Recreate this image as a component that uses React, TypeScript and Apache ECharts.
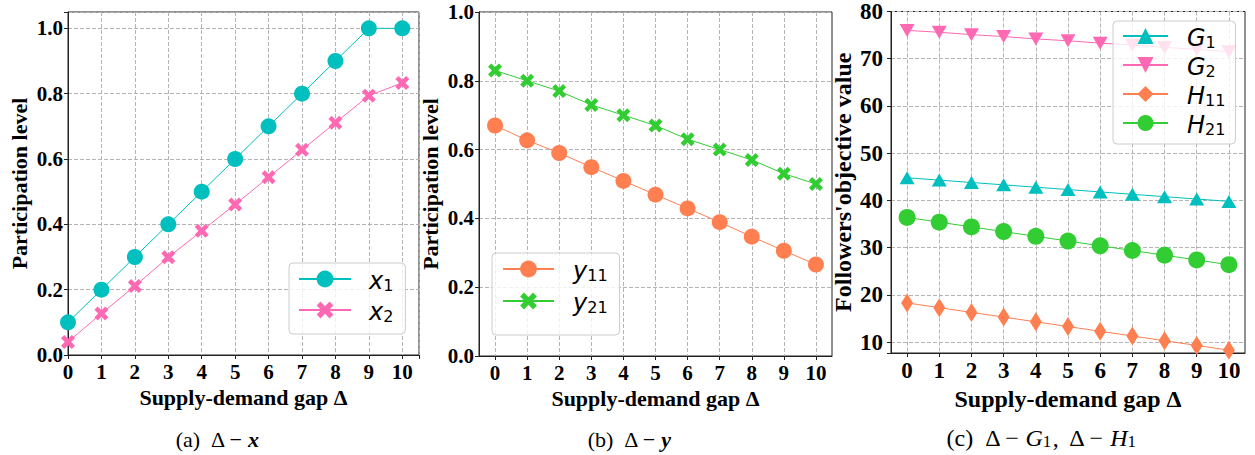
import React, { useEffect, useRef } from "react";
import * as echarts from "echarts";

// ---- data ----
const deltas = [0, 1, 2, 3, 4, 5, 6, 7, 8, 9, 10];
const deltaLabels = deltas.map(String);
const x1 = [0.1, 0.2, 0.3, 0.4, 0.5, 0.6, 0.7, 0.8, 0.9, 1.0, 1.0];
const x2 = [0.04, 0.127, 0.211, 0.299, 0.38, 0.461, 0.544, 0.628, 0.711, 0.794, 0.833];
const y11 = [0.67, 0.627, 0.59, 0.549, 0.509, 0.469, 0.429, 0.389, 0.347, 0.306, 0.266];
const y21 = [0.83, 0.8, 0.77, 0.73, 0.7, 0.67, 0.63, 0.6, 0.57, 0.53, 0.5];
const G1 = [44.8, 44.3, 43.8, 43.3, 42.8, 42.3, 41.8, 41.3, 40.8, 40.3, 39.8];
const G2 = [76.0, 75.6, 75.1, 74.7, 74.2, 73.8, 73.3, 72.9, 72.4, 72.0, 71.5];
const H11 = [18.3, 17.3, 16.3, 15.3, 14.3, 13.3, 12.3, 11.3, 10.3, 9.3, 8.3];
const H21 = [36.4, 35.4, 34.4, 33.4, 32.4, 31.4, 30.4, 29.4, 28.4, 27.4, 26.4];

const xTitle = "Supply-demand gap Δ";
const yTitleAB = "Participation level";
const yTitleC = "Followers'objective value";

// ---- styles ----
const serif = "'Liberation Serif', 'Times New Roman', serif";
const sans = "'DejaVu Sans', sans-serif";
const TEAL = "#00BFBF";
const PINK = "#FF69B4";
const CORAL = "#FF7F50";
const LIME = "#32CD32";
const FRAME = "#222";

const X_SYMBOL =
  "path://M0,2.3L2.3,0L5,2.7L7.7,0L10,2.3L7.3,5L10,7.7L7.7,10L5,7.3L2.3,10L0,7.7L2.7,5Z";
const TRI_UP = "path://M5,0L10,8.66L0,8.66Z";
const TRI_DOWN = "path://M0,0L10,0L5,8.66Z";

const tickFont = (fs: number) => ({ fontFamily: serif, fontWeight: "bold" as const, fontSize: fs, color: "#000" });
const nameFont = (fs: number) => ({ fontFamily: serif, fontWeight: "bold" as const, fontSize: fs, color: "#000" });
const splitLine = { show: true, lineStyle: { color: "#b4b4b4", type: [4, 2], width: 1 } };

const isMultiple = (v: number, step: number) =>
  Math.abs(v / step - Math.round(v / step)) < 1e-6;

function legendRich(fs: number, sfs: number, pad: number) {
  return {
    v: {
      fontFamily: sans,
      fontStyle: "italic",
      fontSize: fs,
      color: "#000",
      verticalAlign: "bottom",
      lineHeight: 28,
      padding: [0, 0, 0, pad],
    },
    s: {
      fontFamily: sans,
      fontSize: sfs,
      color: "#000",
      verticalAlign: "bottom",
      lineHeight: 17,
    },
  };
}
const legendFormatter = (name: string) => `{v|${name[0]}}{s|${name.slice(1)}}`;

function lineSeries(name: string, data: any[], color: string, symbol: string, size: any, idx: number) {
  return {
    type: "line",
    name,
    data,
    xAxisIndex: idx,
    yAxisIndex: idx,
    symbol,
    symbolSize: size,
    showAllSymbol: true,
    lineStyle: { color, width: 1 },
    itemStyle: { color },
    emphasis: { disabled: true },
  };
}

export default function App() {
  const ref = useRef<HTMLDivElement>(null);
  useEffect(() => {
    if (!ref.current) return;
    const chart = echarts.init(ref.current, undefined, { renderer: "svg" });

    const grids = [
      { left: 68, top: 12, width: 351, height: 343 },
      { left: 479, top: 12, width: 353, height: 344 },
      { left: 891, top: 9, width: 354, height: 344 },
    ].map((g) => ({ ...g, show: true, borderColor: FRAME, borderWidth: 1, containLabel: false }));

    const commonX = (fs: number, tfs: number, gap: number) => ({
      name: xTitle,
      nameLocation: "middle",
      nameGap: gap,
      nameTextStyle: nameFont(fs),
      axisLine: { show: true, lineStyle: { color: FRAME } },
      axisTick: { show: true, inside: false, length: 4, lineStyle: { color: FRAME }, alignWithLabel: true },
      axisLabel: { ...tickFont(tfs), margin: 6 },
      splitLine: { ...splitLine, alignWithLabel: true },
    });

    const xAxes = [
      {
        ...commonX(22, 21, 28),
        gridIndex: 0,
        type: "value",
        min: 0,
        max: 10.5,
        interval: 1,
        axisLabel: {
          ...tickFont(21),
          margin: 6,
          formatter: (v: number) => (isMultiple(v, 1) ? String(v) : ""),
        },
      },
      { ...commonX(22, 21, 28), gridIndex: 1, type: "category", data: deltaLabels, boundaryGap: true },
      { ...commonX(24, 23, 29), gridIndex: 2, type: "category", data: deltaLabels, boundaryGap: true },
    ];

    const commonY = (fs: number, gap: number) => ({
      type: "value",
      nameLocation: "middle",
      nameGap: gap,
      nameTextStyle: nameFont(fs),
      axisLine: { show: true, lineStyle: { color: FRAME } },
      axisTick: { show: true, inside: false, length: 4, lineStyle: { color: FRAME } },
      splitLine,
    });

    const yAxes = [
      {
        ...commonY(22, 38),
        gridIndex: 0,
        name: yTitleAB,
        min: 0,
        max: 1.05,
        interval: 0.2,
        axisLabel: {
          ...tickFont(21),
          margin: 5,
          formatter: (v: number) => (isMultiple(v, 0.2) ? v.toFixed(1) : ""),
        },
      },
      {
        ...commonY(22, 38),
        gridIndex: 1,
        name: yTitleAB,
        min: 0,
        max: 1,
        interval: 0.2,
        axisLabel: {
          ...tickFont(21),
          margin: 5,
          formatter: (v: number) => (isMultiple(v, 0.2) ? v.toFixed(1) : ""),
        },
      },
      {
        ...commonY(24, 36),
        gridIndex: 2,
        name: yTitleC,
        min: 7.7,
        max: 80,
        splitNumber: 7,
        minInterval: 10,
        maxInterval: 10,
        axisLabel: {
          ...tickFont(23),
          margin: 8,
          formatter: (v: number) => (isMultiple(v, 10) ? String(Math.round(v)) : ""),
        },
      },
    ];

    const legendBase = {
      orient: "vertical",
      backgroundColor: "rgba(255,255,255,0.8)",
      borderColor: "#cccccc",
      borderWidth: 1,
      borderRadius: 4,
      formatter: legendFormatter,
      selectedMode: false,
    };

    const legends = [
      {
        ...legendBase,
        data: ["x1", "x2"],
        left: 289,
        top: 263,
        padding: [6, 12, 10, 9],
        itemGap: 7,
        itemWidth: 52,
        itemHeight: 21,
        textStyle: { rich: legendRich(24, 16, 13) },
      },
      {
        ...legendBase,
        data: ["y11", "y21"],
        left: 492,
        top: 253,
        padding: [6, 12, 20, 10],
        itemGap: 8,
        itemWidth: 51,
        itemHeight: 21,
        textStyle: { rich: legendRich(24, 16, 14) },
      },
      {
        ...legendBase,
        data: ["G1", "G2", "H11", "H21"],
        left: 1113,
        top: 21,
        padding: [5, 10, 7, 9],
        itemGap: 5,
        itemWidth: 45,
        itemHeight: 20,
        textStyle: { rich: legendRich(24, 16, 14) },
      },
    ];

    const pairs = (ys: number[]) => deltas.map((d, i) => [d, ys[i]]);

    const series = [
      lineSeries("x1", pairs(x1), TEAL, "circle", 16, 0),
      lineSeries("x2", pairs(x2), PINK, X_SYMBOL, 14, 0),
      lineSeries("y11", y11, CORAL, "circle", 16, 1),
      lineSeries("y21", y21, LIME, X_SYMBOL, 14, 1),
      lineSeries("G1", G1, TEAL, TRI_UP, [15, 13], 2),
      lineSeries("G2", G2, PINK, TRI_DOWN, [15, 13], 2),
      lineSeries("H11", H11, CORAL, "diamond", [12, 19], 2),
      lineSeries("H21", H21, LIME, "circle", 17, 2),
    ];

    const capRich = (fs: number) => ({
      n: { fontFamily: serif, fontSize: fs, fill: "#000", verticalAlign: "bottom", lineHeight: 28 },
      b: {
        fontFamily: serif,
        fontSize: fs,
        fontWeight: "bold",
        fontStyle: "italic",
        fill: "#000",
        verticalAlign: "bottom",
        lineHeight: 28,
      },
      i: { fontFamily: serif, fontSize: fs, fontStyle: "italic", fill: "#000", verticalAlign: "bottom", lineHeight: 28 },
      s: { fontFamily: serif, fontSize: Math.round(fs * 0.7), fill: "#000", verticalAlign: "bottom", lineHeight: 20 },
    });
    const caption = (text: string, x: number, fs: number) => ({
      type: "text",
      x,
      y: 436,
      style: { text, align: "center", verticalAlign: "middle", rich: capRich(fs), fill: "#000" },
    });

    chart.setOption({
      animation: false,
      backgroundColor: "#fff",
      grid: grids,
      xAxis: xAxes,
      yAxis: yAxes,
      legend: legends,
      series,
      graphic: [
        caption("{n|(a)  Δ − }{b|x}", 217, 22),
        caption("{n|(b)  Δ − }{b|y}", 629, 22),
        caption("{n|(c)  Δ − }{i|G}{s|1}{n|,  Δ − }{i|H}{s|1}", 1041, 24),
      ],
    });
    return () => chart.dispose();
  }, []);
  return (
    <div
      ref={ref}
      style={{ position: "absolute", left: 0, top: 0, width: 1255, height: 455 }}
    />
  );
}
